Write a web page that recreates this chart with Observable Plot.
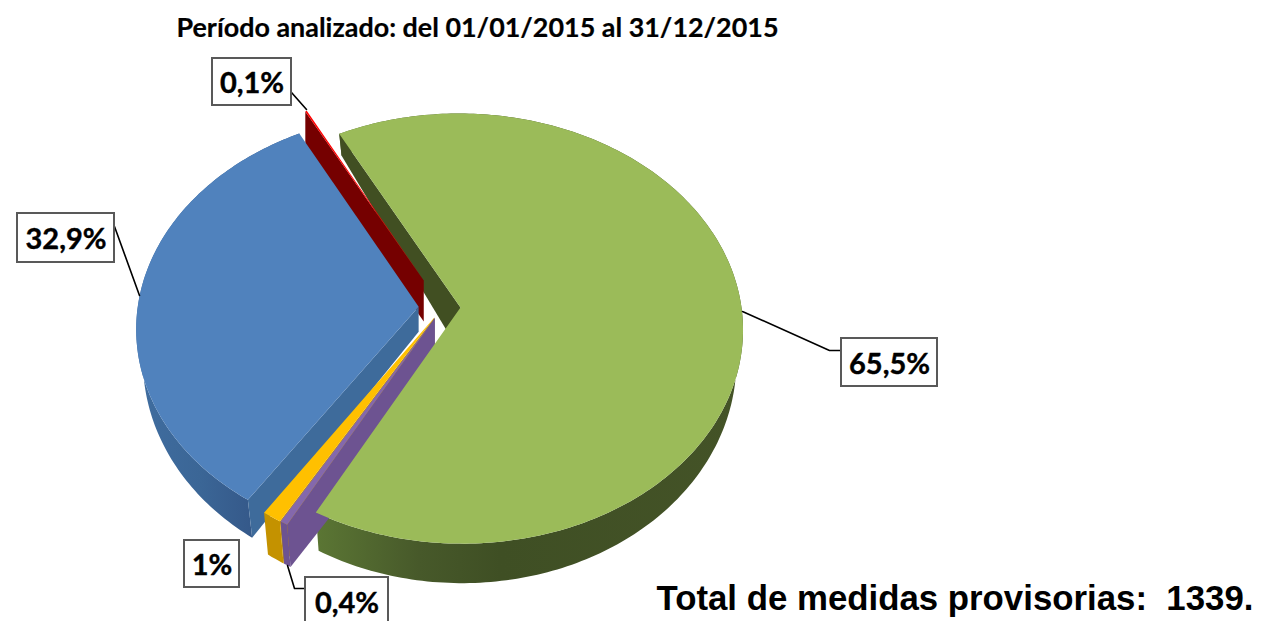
<!DOCTYPE html>
<html><head><meta charset="utf-8">
<script src="https://cdn.jsdelivr.net/npm/d3@7"></script>
<script src="https://cdn.jsdelivr.net/npm/@observablehq/plot@0.6"></script>
<style>html,body{margin:0;padding:0;background:#fff;overflow:hidden}svg{display:block}</style>
</head><body><div id="chart"></div>
<script>
// Data
const categories = ["green","purple","yellow","blue","red"];
const shares = [65.5, 0.4, 1, 32.9, 0.1];
const titleText = "Período analizado: del 01/01/2015 al 31/12/2015";
const totalText = "Total de medidas provisorias:  1339.";

// Styling and projection
const explode = {green:.064, purple:.055, yellow:.055, blue:.085, red:.145};
const apexDrop = {green:46, purple:66, yellow:66, blue:25, red:41};
const rimDrop = {red:41};
const rimExtra = {purple:3.5, yellow:3.5};
const topColor = {green:"#9bbb59", purple:"#8468ac", yellow:"#ffc000", blue:"#5082bd", red:"#ff0000"};
const sideColor = {green:"#414f22", purple:"#6d5391", yellow:"#c49200", blue:"#3e6b9b", red:"#750000"};
const rimFill = {green:"url(#rimGreen)", blue:"url(#rimBlue)", yellow:"#c49200", purple:"#6d5391", red:"#750000"};
const rimStops = {
  rimGreen:{x1:316,x2:743,stops:[[0,"#5b7634"],[.24,"#47592a"],[.43,"#3f4f24"],[1,"#445327"]]},
  rimBlue:{x1:145,x2:250,stops:[[0,"#3f6c9e"],[.52,"#3b6696"],[1,"#35598a"]]}
};
const view = {cx:442, cy:307, S:281, Sq:213, k:.0975, shrink:.978, h0:30, h1:9.5};
const rad = Math.PI/180;
const project = (X,Z) => { const w = 1 - view.k*Z; return [view.cx + view.S*X/w, view.cy + view.Sq*Z/w]; };
const lower = (X,Z,extra=0) => { const [x,y] = project(X,Z); return [view.cx + (x-view.cx)*view.shrink, y + view.h0 + view.h1*Z + extra]; };

const arcs = d3.pie().sort(null).startAngle(332.4*rad).endAngle((332.4+360)*rad)(shares);
const slices = {};
categories.forEach((c,i) => {
  const a = arcs[i], mid = (a.startAngle+a.endAngle)/2, e = explode[c];
  const ox = e*Math.sin(mid), oz = -e*Math.cos(mid);
  const rim = t => [ox+Math.sin(t), oz-Math.cos(t)];
  slices[c] = {a0:a.startAngle, a1:a.endAngle, ox, oz, rim};
});

const rows = [];
let faceId = 0;
const addFace = (pts, fill) => { const z = faceId++; for (const [x,y] of pts) rows.push({x,y,z,fill}); };
const arcAngles = (s, step) => { const n = Math.max(1, Math.ceil((s.a1-s.a0)/(step*rad))); return d3.range(n+1).map(i => s.a0+(s.a1-s.a0)*i/n); };
function topFace(c){ const s = slices[c]; addFace([project(s.ox,s.oz), ...arcAngles(s,1).map(t => project(...s.rim(t)))], topColor[c]); }
function rimWall(c){ const s = slices[c], ts = arcAngles(s,1), ex = rimExtra[c] || 0;
  addFace([...ts.map(t => project(...s.rim(t))), ...ts.slice().reverse().map(t => lower(...s.rim(t), ex))], rimFill[c]); }
function sideWall(c){ const s = slices[c], r = s.rim(s.a0), ap = project(s.ox,s.oz), top = project(...r);
  const low = rimDrop[c] ? [top[0], top[1]+rimDrop[c]] : lower(...r, rimExtra[c] || 0);
  addFace([ap, top, low, [ap[0], ap[1]+apexDrop[c]]], sideColor[c]); }

rimWall("green"); sideWall("green");
sideWall("red"); topFace("red");
rimWall("blue"); sideWall("blue"); topFace("blue");
rimWall("yellow"); sideWall("yellow"); topFace("yellow");
rimWall("purple"); sideWall("purple"); topFace("purple");
topFace("green");

// Labels
const pct = v => String(v).replace(".",",") + "%";
const labelLayout = {
  green:{x1:841,y1:338,x2:937,y2:386},
  purple:{x1:305,y1:577,x2:388,y2:626},
  yellow:{x1:184,y1:540,x2:239,y2:587},
  blue:{x1:17,y1:213,x2:114,y2:262},
  red:{x1:212,y1:58,x2:291,y2:105}
};
const boxes = categories.map((c,i) => ({...labelLayout[c], text:pct(shares[i]),
  cxp:(labelLayout[c].x1+labelLayout[c].x2)/2, cyp:(labelLayout[c].y1+labelLayout[c].y2)/2+2}));
const leaders = [
  {id:"g",x:742,y:311},{id:"g",x:829,y:350},{id:"g",x:841,y:350},
  {id:"b",x:114,y:226},{id:"b",x:139,y:295},
  {id:"r",x:291,y:92},{id:"r",x:306,y:109},
  {id:"p",x:287,y:565},{id:"p",x:294,y:588},{id:"p",x:305,y:588}
];

function gradients(){
  const defs = d3.create("svg:defs");
  for (const [id,g] of Object.entries(rimStops)) {
    const lg = defs.append("linearGradient").attr("id",id).attr("gradientUnits","userSpaceOnUse")
      .attr("x1",g.x1).attr("x2",g.x2).attr("y1",0).attr("y2",0);
    for (const [o,col] of g.stops) lg.append("stop").attr("offset",o).attr("stop-color",col);
  }
  return defs.node();
}

const chart = Plot.plot({
  width:1262, height:621, margin:0,
  x:{domain:[0,1262], range:[0,1262], axis:null},
  y:{domain:[0,621], range:[0,621], axis:null},
  color:{type:"identity"},
  marks:[
    gradients,
    Plot.line(rows,{x:"x",y:"y",z:"z",fill:"fill",stroke:"none",strokeWidth:0}),
    Plot.line(leaders,{x:"x",y:"y",z:"id",stroke:"#000",strokeWidth:1.6}),
    Plot.rect(boxes,{x1:"x1",y1:"y1",x2:"x2",y2:"y2",fill:"#fff",stroke:"#595959",strokeWidth:2}),
    Plot.text(boxes,{x:"cxp",y:"cyp",text:"text",fontFamily:"Lato, Carlito, sans-serif",fontWeight:700,fontSize:29,fill:"#000",stroke:"#000",strokeWidth:0.4}),
    Plot.text([titleText],{x:()=>176,y:()=>28,text:d=>d,textAnchor:"start",fontFamily:"Lato, sans-serif",fontWeight:700,fontSize:26.9,fill:"#000",stroke:"#000",strokeWidth:0.2}),
    Plot.text([totalText],{x:()=>656,y:()=>598,text:d=>d,textAnchor:"start",fontFamily:"'Liberation Sans', Arial, sans-serif",fontWeight:700,fontSize:34.8,fill:"#000"})
  ]
});
document.getElementById("chart").append(chart);
</script>
</body></html>
